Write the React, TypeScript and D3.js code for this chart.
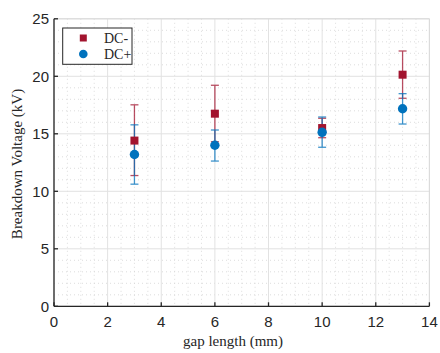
import React from "react";
import * as d3 from "d3";

const gaps = [3, 6, 10, 13];
const dcMinus = [14.41, 16.75, 15.5, 20.14];
const dcMinusLow = [11.37, 14.31, 14.66, 18.09];
const dcMinusHigh = [17.52, 19.22, 16.35, 22.2];
const dcPlus = [13.2, 14.0, 15.13, 17.18];
const dcPlusLow = [10.62, 12.63, 13.83, 15.85];
const dcPlusHigh = [15.78, 15.33, 16.46, 18.49];
const xTicks = [0, 2, 4, 6, 8, 10, 12, 14];
const yTicks = [0, 5, 10, 15, 20, 25];
const seriesNames = ["DC-", "DC+"];

const W = 440, H = 353;
const left = 54, right = 429.4, top = 18.8, bottom = 306.3;

export default function App() {
  const x = d3.scaleLinear().domain([0, 14]).range([left, right]);
  const y = d3.scaleLinear().domain([0, 25]).range([bottom, top]);
  const xMinor = d3.range(0, 14.01, 0.5).filter((v) => v % 2 !== 0);
  const yMinor = d3.range(0, 25.01, 1).filter((v) => v % 5 !== 0);
  const red = "#A2142F";
  const blue = "#0072BD";
  const sans = "Liberation Sans, Arial, sans-serif";
  const serif = "Liberation Serif, Times New Roman, serif";

  const errBars = (vals: number[], lo: number[], hi: number[], color: string) =>
    gaps.map((g, i) => {
      const cx = x(g);
      return (
        <g key={i} stroke={color} strokeWidth={1.3} opacity={0.75}>
          <line x1={cx} x2={cx} y1={y(lo[i])} y2={y(hi[i])} />
          <line x1={cx - 4} x2={cx + 4} y1={y(lo[i])} y2={y(lo[i])} />
          <line x1={cx - 4} x2={cx + 4} y1={y(hi[i])} y2={y(hi[i])} />
        </g>
      );
    });

  return (
    <svg width={W} height={H} style={{ position: "absolute", left: 0, top: 0, background: "#fff" }}>
      <rect x={0} y={0} width={W} height={H} fill="#fff" />
      {/* minor grid */}
      <g stroke="#d4d4d4" strokeWidth={0.8} strokeDasharray="1,3">
        {xMinor.map((v) => (
          <line key={"xm" + v} x1={x(v)} x2={x(v)} y1={top} y2={bottom} />
        ))}
        {yMinor.map((v) => (
          <line key={"ym" + v} x1={left} x2={right} y1={y(v)} y2={y(v)} />
        ))}
      </g>
      {/* major grid */}
      <g stroke="#e2e2e2" strokeWidth={1}>
        {xTicks.map((v) => (
          <line key={"xg" + v} x1={x(v)} x2={x(v)} y1={top} y2={bottom} />
        ))}
        {yTicks.map((v) => (
          <line key={"yg" + v} x1={left} x2={right} y1={y(v)} y2={y(v)} />
        ))}
      </g>
      {/* box top/right */}
      <line x1={left} x2={right} y1={top} y2={top} stroke="#d9d9d9" />
      <line x1={right} x2={right} y1={top} y2={bottom} stroke="#d9d9d9" />
      {/* data */}
      {errBars(dcMinus, dcMinusLow, dcMinusHigh, red)}
      {errBars(dcPlus, dcPlusLow, dcPlusHigh, blue)}
      {gaps.map((g, i) => (
        <rect key={"s" + i} x={x(g) - 4} y={y(dcMinus[i]) - 4} width={8} height={8} fill={red} />
      ))}
      {gaps.map((g, i) => (
        <circle key={"c" + i} cx={x(g)} cy={y(dcPlus[i])} r={4.7} fill={blue} />
      ))}
      {/* axes */}
      <g stroke="#262626" strokeWidth={1.3}>
        <line x1={left} x2={right} y1={bottom} y2={bottom} />
        <line x1={left} x2={left} y1={top} y2={bottom} />
        {xTicks.map((v) => (
          <line key={"xt" + v} x1={x(v)} x2={x(v)} y1={bottom} y2={bottom - 4} />
        ))}
        {yTicks.map((v) => (
          <line key={"yt" + v} x1={left} x2={left + 4} y1={y(v)} y2={y(v)} />
        ))}
      </g>
      <g fontFamily={sans} fontSize={15} fill="#262626">
        {xTicks.map((v) => (
          <text key={"xl" + v} x={x(v)} y={327} textAnchor="middle">
            {v}
          </text>
        ))}
        {yTicks.map((v) => (
          <text key={"yl" + v} x={49} y={y(v) + 5.5} textAnchor="end">
            {v}
          </text>
        ))}
      </g>
      <text x={233} y={346} textAnchor="middle" fontFamily={serif} fontSize={15} fill="#262626">
        gap length (mm)
      </text>
      <text
        transform={`translate(22,164) rotate(-90)`}
        textAnchor="middle"
        fontFamily={serif}
        fontSize={15}
        fill="#262626"
      >
        Breakdown Voltage (kV)
      </text>
      {/* legend */}
      <rect x={62.7} y={28} width={69.3} height={36.3} fill="#fff" stroke="#262626" strokeWidth={1} />
      <rect x={83.3 - 3.5} y={38 - 3.5} width={7} height={7} fill={red} />
      <circle cx={83.3} cy={54} r={4.3} fill={blue} />
      <g fontFamily={serif} fontSize={14} fill="#262626">
        <text x={104} y={42.5}>{seriesNames[0]}</text>
        <text x={104} y={58.5}>{seriesNames[1]}</text>
      </g>
    </svg>
  );
}
